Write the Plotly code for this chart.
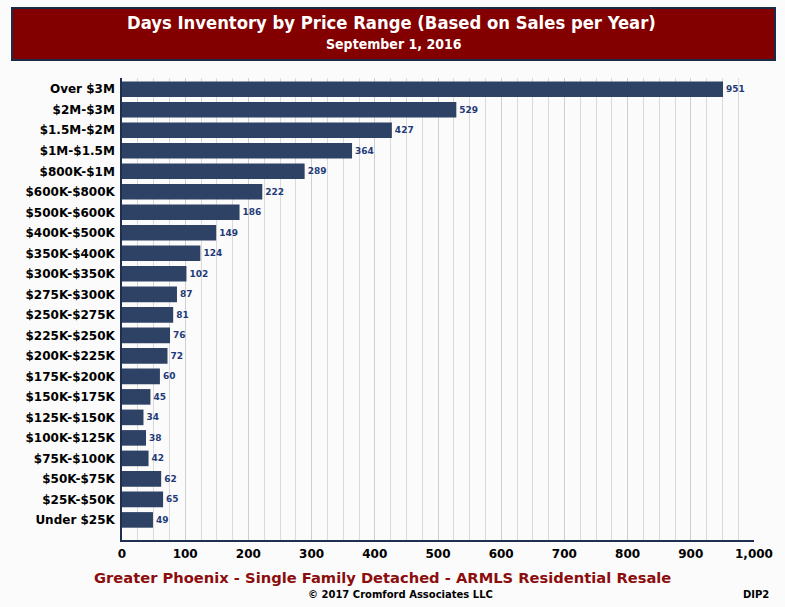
import plotly.graph_objects as go

categories = ["Over $3M", "$2M-$3M", "$1.5M-$2M", "$1M-$1.5M", "$800K-$1M",
              "$600K-$800K", "$500K-$600K", "$400K-$500K", "$350K-$400K",
              "$300K-$350K", "$275K-$300K", "$250K-$275K", "$225K-$250K",
              "$200K-$225K", "$175K-$200K", "$150K-$175K", "$125K-$150K",
              "$100K-$125K", "$75K-$100K", "$50K-$75K", "$25K-$50K", "Under $25K"]
days = [951, 529, 427, 364, 289, 222, 186, 149, 124, 102, 87, 81, 76, 72, 60,
        45, 34, 38, 42, 62, 65, 49]
x_ticks = [0, 100, 200, 300, 400, 500, 600, 700, 800, 900, 1000]

W, H = 785, 607
L, R, T, B = 122, 754, 78, 540


def px(x):
    return (x - L) / (R - L)


def py(y):
    return (B - y) / (B - T)


cats = categories[::-1]
vals = days[::-1]

fig = go.Figure(go.Bar(
    y=cats, x=vals, orientation="h",
    marker=dict(color="#2e4266", line=dict(width=0)),
    text=[str(v) for v in vals], textposition="outside",
    textfont=dict(family="DejaVu Sans", size=9, color="#1f3a78", weight="bold"),
    cliponaxis=False, width=0.76, hoverinfo="skip",
))

fig.update_layout(
    width=W, height=H,
    margin=dict(l=L, r=W - R, t=T, b=H - B),
    paper_bgcolor="#fbfbfb", plot_bgcolor="#fbfbfb",
    showlegend=False,
    font=dict(family="DejaVu Sans", color="black"),
    xaxis=dict(range=[0, 1000], tickvals=x_ticks, tickformat=",",
               tickfont=dict(size=12, family="DejaVu Sans", color="black", weight="bold"),
               showgrid=True, gridcolor="#cfcfcf", gridwidth=1,
               minor=dict(dtick=25, showgrid=True, gridcolor="#dadada", gridwidth=1),
               showline=True, linecolor="#1f2f4f", linewidth=1.5,
               ticks="", ticklabelstandoff=2, zeroline=False, fixedrange=True),
    yaxis=dict(categoryorder="array", categoryarray=cats,
               range=[-0.98, 21.55],
               tickfont=dict(size=12, family="DejaVu Sans", color="black", weight="bold"),
               showline=True, linecolor="#1f2f4f", linewidth=1.5,
               ticks="", ticklabelstandoff=3, showgrid=False, fixedrange=True),
)

fig.add_shape(type="rect", xref="paper", yref="paper",
              x0=px(12), x1=px(775), y0=py(60), y1=py(8),
              fillcolor="#830000", line=dict(color="#1c2b45", width=2), layer="above")


def note(x, y, text, size, color, family="DejaVu Sans"):
    fig.add_annotation(x=px(x), y=py(y), xref="paper", yref="paper",
                       xanchor="center", yanchor="middle",
                       text=text, showarrow=False,
                       font=dict(size=size, color=color, family=family))


note(391, 23, "<b>Days Inventory by Price Range (Based on Sales per Year)</b>",
     18.3, "white", "DejaVu Sans Condensed, DejaVu Sans")
note(394, 44, "<b>September 1, 2016</b>", 14, "white", "DejaVu Sans Condensed, DejaVu Sans")
note(382, 577, "<b>Greater Phoenix - Single Family Detached - ARMLS Residential Resale</b>",
     14.7, "#8b0d0d")
note(400, 594, "<b>© 2017 Cromford Associates LLC</b>", 10, "black")
note(756, 594, "<b>DIP2</b>", 10, "black")

fig.write_html("out.html", post_script="document.body.style.margin='0px';",
               config={"displayModeBar": False})
